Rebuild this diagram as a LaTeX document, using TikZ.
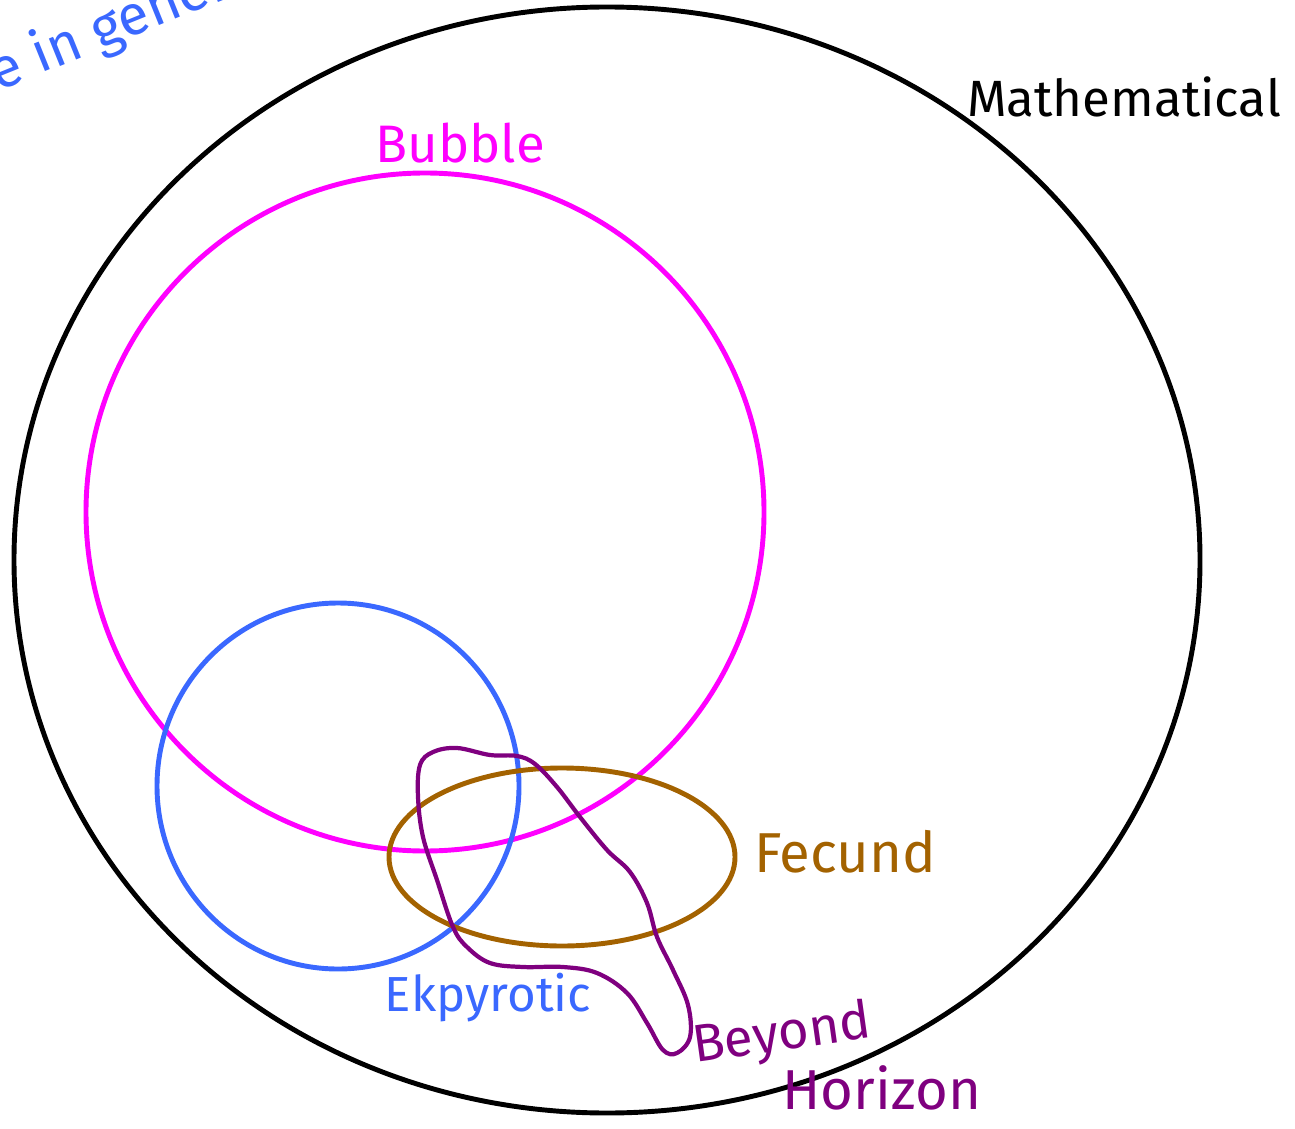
\documentclass[tikz,border=0pt]{standalone}
\usepackage{fontspec}
\setmainfont{Fira Sans}
\usetikzlibrary{positioning}
\definecolor{bubblec}{HTML}{FF00FF}
\definecolor{ekpc}{HTML}{3A68FF}
\definecolor{fecc}{HTML}{A36200}
\definecolor{beyc}{HTML}{7F007F}
\begin{document}
\begin{tikzpicture}[x=0.01cm,y=-0.01cm,line width=1.4pt,lab/.style={font=\fontsize{15}{17}\selectfont,inner sep=0pt}]
\clip (0,0) rectangle (1295,1128);
\useasboundingbox (0,0) rectangle (1295,1128);
\draw[black] (607,560) ellipse [x radius=593,y radius=553];
\draw[bubblec] (425,512) circle [radius=339];
\draw[ekpc] (338,786) ellipse [x radius=181,y radius=183];
\draw[fecc] (562,857) ellipse [x radius=173,y radius=89];
\draw[beyc,line width=1.2pt] plot[smooth cycle,tension=0.6] coordinates {(420,765) (433,752) (457,748) (490,755) (517,756) (535,764) (557,787) (580,817) (607,850) (630,872) (647,903) (657,937) (673,970) (688,1005) (690,1037) (677,1053) (663,1050) (647,1023) (627,993) (597,973) (563,967) (523,967) (490,963) (467,947) (453,927) (437,880) (423,837) (418,797)};
\node[lab,text=black,font=\fontsize{14.5}{17}\selectfont] (math) at (1124,97) {Mathematical};
\node[lab,text=bubblec] (bubble) at (460,143) {Bubble};
\node[lab,text=fecc,font=\fontsize{16}{19}\selectfont] (fecund) at (845,852) {Fecund};
\node[lab,text=ekpc,font=\fontsize{14}{17}\selectfont] (ekpyrotic) at (488,998) {Ekpyrotic};
\node[lab,text=beyc,rotate=8] (beyond) at (782,1036) {Beyond};
\node[lab,text=beyc,font=\fontsize{16}{19}\selectfont] (horizon) at (882,1088) {Horizon};
\node[lab,text=ekpc,rotate=22,anchor=base west,font=\fontsize{16}{19}\selectfont] (general) at (-4,92) {e in general};
\end{tikzpicture}
\end{document}
